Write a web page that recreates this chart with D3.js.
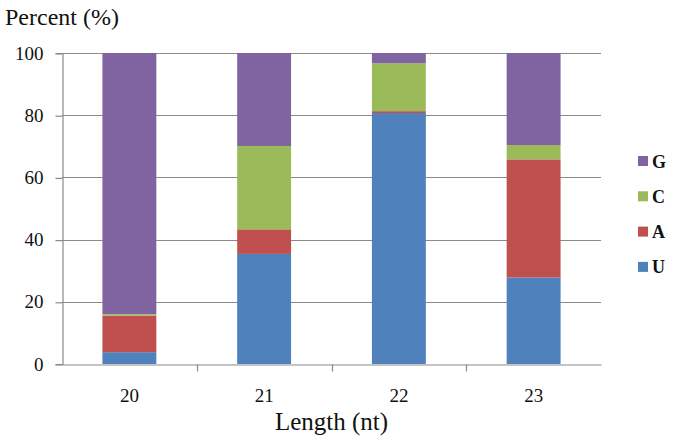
<!DOCTYPE html>
<html>
<head>
<meta charset="utf-8">
<script src="https://cdn.jsdelivr.net/npm/d3@7"></script>
<style>
  body { margin: 0; background: #fff; }
  text { font-family: "Liberation Serif", "Times New Roman", serif; fill: #111; }
</style>
</head>
<body>
<div id="chart"></div>
<script>
// categories and stacked series (percent)
var lengths = ['20', '21', '22', '23'];
var bases = ['U', 'A', 'C', 'G'];
var valU = [3.8, 35.4, 80.7, 27.8];
var valA = [11.7, 7.9, 0.6, 38.0];
var valC = [0.5, 26.8, 15.4, 4.6];
var valG = [84.0, 29.9, 3.3, 29.6];
var yTicks = [0, 20, 40, 60, 80, 100];

var baseColor = {'U': '#4F81BD', 'A': '#C0504D', 'C': '#9BBB59', 'G': '#8064A2'};
var seriesVals = {'U': valU, 'A': valA, 'C': valC, 'G': valG};

var width = 675, height = 441;
var margin = {left: 62, right: 74, top: 53, bottom: 77};

var svg = d3.select('#chart').append('svg')
    .attr('width', width)
    .attr('height', height);

var x = d3.scaleBand().domain(lengths)
    .range([margin.left, width - margin.right])
    .padding(0);

var y = d3.scaleLinear().domain([0, 100])
    .range([height - margin.bottom, margin.top]);

// build table for stack
var table = lengths.map(function(l, i) {
    var row = {len: l};
    bases.forEach(function(b) { row[b] = seriesVals[b][i]; });
    return row;
});
var stacked = d3.stack().keys(bases)(table);

// gridlines
svg.append('g')
    .selectAll('line')
    .data(yTicks.slice(1))
    .enter()
    .append('line')
    .attr('x1', margin.left)
    .attr('x2', width - margin.right)
    .attr('y1', function(d) { return Math.round(y(d)) + 0.5; })
    .attr('y2', function(d) { return Math.round(y(d)) + 0.5; })
    .style('stroke', '#8a8a8a')
    .style('stroke-width', 1.2);

// bars
var barW = x.step() * 0.4;
svg.append('g')
    .selectAll('g')
    .data(stacked)
    .enter()
    .append('g')
    .style('fill', function(d) { return baseColor[d.key]; })
    .selectAll('rect')
    .data(function(d) { return d; })
    .enter()
    .append('rect')
    .attr('x', function(d) { return x(d.data.len) + (x.step() - barW) / 2; })
    .attr('y', function(d) { return y(d[1]); })
    .attr('width', barW)
    .attr('height', function(d) { return y(d[0]) - y(d[1]); });

// y axis
var yAxis = d3.axisLeft(y).tickValues(yTicks).tickSize(7).tickPadding(12);
var gy = svg.append('g')
    .attr('transform', 'translate(' + (margin.left + 0.5) + ',0)')
    .call(yAxis);
gy.select('.domain').style('stroke', '#8a8a8a').style('stroke-width', 1.2);
gy.selectAll('.tick line').style('stroke', '#8a8a8a').style('stroke-width', 1.2)
    .attr('transform', 'translate(0,0.5)');
gy.selectAll('.tick text')
    .style('font-family', '"Liberation Serif", serif')
    .style('font-size', '19px')
    .style('fill', '#111');

// x axis
var xAxis = d3.axisBottom(x).tickSize(0).tickPadding(24);
var gx = svg.append('g')
    .attr('transform', 'translate(0,' + (Math.round(y(0)) + 0.5) + ')')
    .call(xAxis);
gx.select('.domain').style('stroke', '#8a8a8a').style('stroke-width', 1.2);
gx.selectAll('.tick text')
    .style('font-family', '"Liberation Serif", serif')
    .style('font-size', '19px')
    .style('fill', '#111');
// category boundary ticks
gx.selectAll('.sep')
    .data(lengths.slice(1))
    .enter()
    .append('line')
    .attr('x1', function(d) { return Math.round(x(d)) + 0.5; })
    .attr('x2', function(d) { return Math.round(x(d)) + 0.5; })
    .attr('y1', 0)
    .attr('y2', 7)
    .style('stroke', '#8a8a8a')
    .style('stroke-width', 1.2);

// axis titles
svg.append('text')
    .text('Percent (%)')
    .attr('x', 5)
    .attr('y', 25)
    .attr('font-size', 24);

svg.append('text')
    .text('Length (nt)')
    .attr('x', (margin.left + width - margin.right) / 2)
    .attr('y', 430)
    .attr('text-anchor', 'middle')
    .attr('font-size', 25);

// legend
var legendOrder = ['G', 'C', 'A', 'U'];
var legend = svg.append('g')
    .selectAll('g')
    .data(legendOrder)
    .enter()
    .append('g')
    .attr('transform', function(d, i) { return 'translate(638,' + (161 + i * 35.3) + ')'; });

legend.append('rect')
    .attr('x', 0)
    .attr('y', -5)
    .attr('width', 10)
    .attr('height', 10)
    .style('fill', function(d) { return baseColor[d]; });

legend.append('text')
    .text(function(d) { return d; })
    .attr('x', 14)
    .attr('y', 6.5)
    .attr('font-size', 18)
    .attr('font-weight', 'bold');
</script>
</body>
</html>
